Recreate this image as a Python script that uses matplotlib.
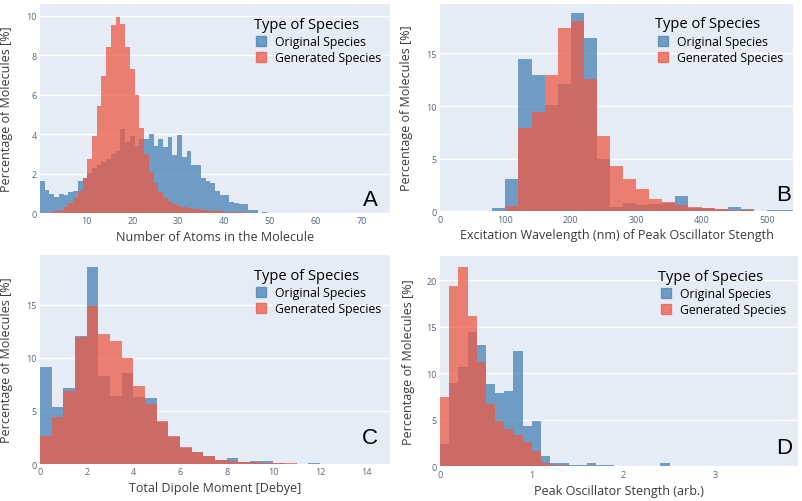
import numpy as np
import matplotlib
matplotlib.use("Agg")
import matplotlib.pyplot as plt
from matplotlib.lines import Line2D

plt.rcParams['font.family'] = ['Open Sans', 'DejaVu Sans']

# --- A: number of atoms in the molecule (percent of molecules per bin)
atoms_edges = np.linspace(-0.15, 76.2, 75)
atoms_original = [1.61, 1.17, 0.97, 0.80, 0.97, 0.90, 1.05, 1.14, 1.61,
                  1.80, 2.05, 2.30, 2.45, 2.60, 2.75, 3.00, 3.15, 4.25, 3.60, 3.90, 3.40, 3.75,
                  3.73, 4.02, 3.42, 3.73, 3.34, 3.85, 2.95, 3.98, 2.86, 3.12, 2.44, 2.44,
                  1.78, 1.61, 1.51, 1.14, 0.92, 0.92, 0.54, 0.50, 0.45, 0.44, 0.15, 0.15, 0.01, 0.07, 0.02] + [0] * 25
atoms_generated = [0, 0, 0.03, 0.08, 0.17, 0.32, 0.50, 0.75, 1.14, 1.80,
                   2.75, 3.93, 5.45, 6.94, 8.42, 9.56, 9.95, 9.60, 8.42, 7.28, 5.96, 4.30,
                   3.00, 2.07, 1.50, 1.05, 0.76, 0.60, 0.46, 0.37, 0.32, 0.27, 0.22, 0.19,
                   0.16, 0.14, 0.12, 0.10, 0.08, 0.07, 0.05, 0.04, 0.03, 0.03, 0.02, 0.02] + [0.01] * 10 + [0] * 18

# --- B: excitation wavelength (nm)
wave_edges = np.arange(0, 541, 20)
wave_original = [0, 0, 0, 0, 0.32, 3.05, 14.5, 13.0, 10.1, 12.1, 18.8, 16.5, 5.0, 0.4,
                 0.8, 0.6, 0.7, 0.8, 1.43, 0.3, 0.3, 0.2, 0.38, 0.2, 0, 0.16, 0.16]
wave_generated = [0.05, 0, 0, 0, 0, 0.47, 7.9, 9.4, 13.0, 17.46, 18.13, 12.6, 7.2, 4.35,
                  3.05, 2.1, 1.17, 0.86, 0.6, 0.38, 0.35, 0.22, 0.15, 0.1, 0.06, 0.03, 0.02]

# --- C: total dipole moment (Debye)
dipole_edges = np.arange(0, 15.01, 0.5)
dipole_original = [9.12, 5.4, 7.17, 12.05, 18.55, 8.33, 6.4, 8.55, 6.3, 6.2, 4.0, 2.5, 1.5, 1.1, 0.75,
                   0.35, 0.53, 0.2, 0.31, 0.31, 0.1, 0.04, 0.03, 0.1, 0, 0, 0, 0, 0, 0]
dipole_generated = [2.67, 4.4, 6.84, 11.95, 14.94, 12.26, 11.6, 9.97, 7.33, 5.66, 4.09, 2.6, 1.57, 1.1, 0.79,
                    0.38, 0.28, 0.22, 0.16, 0.13, 0.08, 0.06, 0.04, 0.03, 0.02, 0.02, 0.02, 0.01, 0.03, 0]

# --- D: peak oscillator strength (arb.)
osc_edges = np.round(np.arange(40) * 0.1, 1)
osc_original = [2.4, 9.0, 10.7, 14.45, 13.0, 8.84, 7.84, 8.05, 12.4, 4.3, 4.9, 1.14, 0.34, 0.32,
                0.18, 0.18, 0.36, 0.18, 0.18, 0, 0, 0, 0, 0, 0.36] + [0] * 14
osc_generated = [7.4, 19.4, 21.4, 16.2, 11.2, 6.7, 4.9, 4.0, 3.36, 2.58, 1.68, 0.32, 0.14, 0.1,
                 0.06, 0.05, 0.04, 0.03, 0.02, 0.02] + [0] * 19

BG = '#E5ECF6'
BLUE = '#4682B4'
RED = '#EC5A45'
ALPHA = 0.75
TICK_COLOR = '#506784'
LABEL_COLOR = '#3a3a3a'


def draw_panel(rect, edges, original, generated, xlabel, xticks, yticks, xlim, ylim,
               letter, letter_xy, ylabel_x):
    ax = fig.add_axes(rect)
    ax.set_facecolor(BG)
    widths = np.diff(edges)
    ax.bar(edges[:-1], original, width=widths, align='edge', color=BLUE, alpha=ALPHA, linewidth=0, zorder=2)
    ax.bar(edges[:-1], generated, width=widths, align='edge', color=RED, alpha=ALPHA, linewidth=0, zorder=3)
    ax.set_xlim(*xlim)
    ax.set_ylim(0, ylim)
    ax.set_xticks(xticks)
    ax.set_yticks(yticks)
    ax.grid(axis='y', color='white', linewidth=1.0, zorder=1)
    ax.set_axisbelow(True)
    for s in ax.spines.values():
        s.set_visible(False)
    ax.tick_params(length=0, labelsize=6.5, colors=TICK_COLOR, pad=2.5)
    ax.set_xlabel(xlabel, fontsize=9, color=LABEL_COLOR)
    ax.set_ylabel('Percentage of Molecules [%]', fontsize=9, color=LABEL_COLOR)
    ax.xaxis.set_label_coords(0.5, -0.082)
    ax.yaxis.set_label_coords(ylabel_x, 0.5)
    handles = [Line2D([], [], marker='s', ls='', color=BLUE, alpha=ALPHA, markersize=7),
               Line2D([], [], marker='s', ls='', color=RED, alpha=ALPHA, markersize=7)]
    ax.legend(handles, ['Original Species', 'Generated Species'], title='Type of Species',
              loc='upper left', bbox_to_anchor=(0.61, 0.94), frameon=False, alignment='left',
              fontsize=8.8, title_fontsize=10.5, borderpad=0, handletextpad=0.55,
              labelspacing=0.28, handlelength=1.2, borderaxespad=0)
    ax.text(letter_xy[0], letter_xy[1], letter, transform=ax.transAxes, fontsize=16,
            family='Liberation Sans', ha='center', va='center', color='black', zorder=5)
    return ax


fig = plt.figure(figsize=(8.03, 5.02), dpi=100)

draw_panel([0.0498, 0.5737, 0.4359, 0.4163], atoms_edges, atoms_original, atoms_generated,
           'Number of Atoms in the Molecule', range(10, 71, 10), range(0, 11, 2),
           (-0.15, 76.2), 10.6, 'A', (0.944, 0.065), -0.076)
draw_panel([0.548, 0.577, 0.4396, 0.413], wave_edges, wave_original, wave_generated,
           'Excitation Wavelength (nm) of Peak Oscillator Stength', range(0, 501, 100), range(0, 16, 5),
           (0, 540), 19.7, 'B', (0.973, 0.08), -0.076)
draw_panel([0.0498, 0.0737, 0.4359, 0.4163], dipole_edges, dipole_original, dipole_generated,
           'Total Dipole Moment [Debye]', range(0, 15, 2), range(0, 16, 5),
           (0, 15), 19.7, 'C', (0.943, 0.125), -0.076)
draw_panel([0.548, 0.0691, 0.4458, 0.419], osc_edges, osc_original, osc_generated,
           'Peak Oscillator Stength (arb.)', range(0, 4), range(0, 21, 5),
           (0, 3.9), 22.6, 'D', (0.961, 0.09), -0.069)

fig.savefig('out.png', dpi=100)
